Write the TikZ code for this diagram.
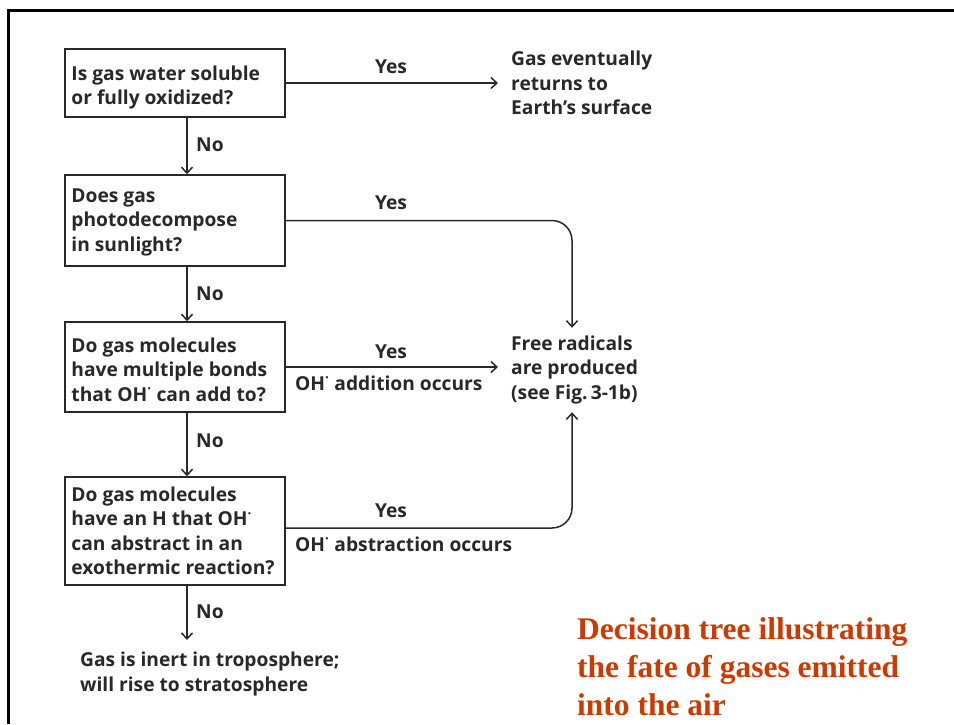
\documentclass[tikz,border=0pt]{standalone}
\usepackage{fontspec}
\setmainfont{Open Sans}
\newfontfamily\redfont{Liberation Serif}
\usetikzlibrary{arrows.meta}
\definecolor{ink}{RGB}{40,40,40}
\definecolor{titlered}{RGB}{205,58,0}
\tikzset{
  diag/.style={font=\bfseries\fontsize{19.2pt}{24.5pt}\selectfont, text=ink},
  qbox/.style={draw=ink, line width=1.5pt, rectangle, minimum width=220pt, inner sep=0pt},
  qtext/.style={diag, anchor=north west, inner sep=0pt, align=left},
  lbl/.style={diag, inner sep=0pt},
  txt/.style={diag, inner sep=0pt, align=left},
  arr/.style={draw=ink, line width=1.5pt, -{Straight Barb[length=6pt,width=11pt,line width=1.5pt]}},
}
\begin{document}
\begin{tikzpicture}[x=1pt,y=-1pt]
\useasboundingbox (0,0) rectangle (954,724);
% frame
\draw[line width=3pt, black] (8,724) -- (8,10) -- (954,10);
% boxes
\node[qbox, minimum height=68pt] (b1) at (175,83) {};
\node[qbox, minimum height=91pt] (b2) at (175,220.5) {};
\node[qbox, minimum height=90pt] (b3) at (175,367) {};
\node[qbox, minimum height=108pt] (b4) at (175,531) {};
\node[qtext] (t1) at ([xshift=7pt,yshift=-17pt]b1.north west) {Is gas water soluble\\or fully oxidized?};
\node[qtext] (t2) at ([xshift=7pt,yshift=-14pt]b2.north west) {Does gas\\photodecompose\\in sunlight?};
\node[qtext] (t3) at ([xshift=7pt,yshift=-16pt]b3.north west) {Do gas molecules\\have multiple bonds\\that OH\textsuperscript{·} can add to?};
\node[qtext] (t4) at ([xshift=7pt,yshift=-10pt]b4.north west) {Do gas molecules\\have an H that OH\textsuperscript{·}\\can abstract in an\\exothermic reaction?};
% outcome texts
\node[txt, anchor=west, inner xsep=13pt] (gas) at (498,83) {Gas eventually\\returns to\\Earth’s surface};
\node[txt, anchor=west, inner xsep=13pt, minimum height=84pt] (fr) at (498,370) {Free radicals\\are produced\\(see Fig.\,3-1b)};
\node[txt, anchor=north west, inner ysep=12pt] (inert) at (80,640) {Gas is inert in troposphere;\\will rise to stratosphere};
\coordinate (jx) at (572,0);
% connectors
\draw[arr] (b1.east) -- (b1.east -| gas.west);
\draw[arr] (b3.east) -- (b3.east -| fr.west);
\draw[arr, rounded corners=20pt] (b2.east) -| (jx |- fr.north);
\draw[arr, rounded corners=20pt] ([yshift=3pt]b4.east) -| (jx |- fr.south);
\draw[arr] ([xshift=12pt]b1.south) -- ([xshift=12pt]b2.north);
\draw[arr] ([xshift=12pt]b2.south) -- ([xshift=12pt]b3.north);
\draw[arr] ([xshift=12pt]b3.south) -- ([xshift=12pt]b4.north);
\draw[arr] ([xshift=12pt]b4.south) -- ([xshift=12pt]b4.south |- inert.north);
% labels
\node[lbl] (y1) at (391,67) {Yes};
\node[lbl] (y2) at (391,203) {Yes};
\node[lbl] (y3) at (391,352) {Yes};
\node[lbl] (y4) at (391,511) {Yes};
\node[lbl, anchor=west] (a3) at (295,383) {OH\textsuperscript{·} addition occurs};
\node[lbl, anchor=west] (a4) at (295,544) {OH\textsuperscript{·} abstraction occurs};
\node[lbl, anchor=west] (n1) at (196,145) {No};
\node[lbl, anchor=west] (n2) at (196,294) {No};
\node[lbl, anchor=west] (n3) at (196,441) {No};
\node[lbl, anchor=west] (n4) at (196,612) {No};
% title
\node[anchor=north west, inner sep=0pt, align=left, text=titlered,
  font=\redfont\bfseries\fontsize{31.5pt}{38pt}\selectfont] (title) at (577,617)
  {Decision tree illustrating\\the fate of gases emitted\\into the air};
\end{tikzpicture}
\end{document}
